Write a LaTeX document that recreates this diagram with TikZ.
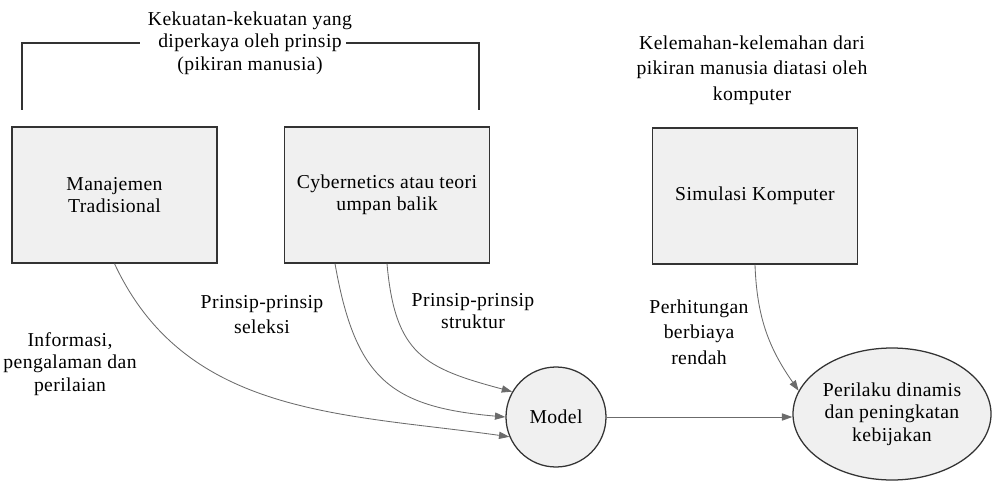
\documentclass[tikz,border=0pt]{standalone}
\usepackage{fontspec}
\setmainfont{Liberation Serif}[LetterSpace=2]
\usetikzlibrary{shapes.geometric,arrows.meta,positioning}

\begin{document}
\begin{tikzpicture}[
  font=\fontsize{14}{16}\selectfont,
  kotak/.style={draw=cgaris,fill=cisi,line width=0.9pt,minimum width=5.125cm,minimum height=3.4cm,align=center,inner sep=2pt},
  teks/.style={align=center,inner sep=0pt},
  panah/.style={draw=cpanah,line width=0.6pt,-{Triangle[length=2.6mm,width=1.8mm]}},
]
%
\useasboundingbox (0,0) rectangle (24.825cm,12cm);
%
\definecolor{cgaris}{rgb}{0.2,0.2,0.2}
\definecolor{cisi}{rgb}{0.94,0.94,0.94}
\definecolor{cpanah}{rgb}{0.42,0.42,0.42}
%
\node[kotak] (mt) at (2.8625,7.125) {Manajemen\\Tradisional};
\node[kotak] (cyb) at (9.675,7.125) {Cybernetics atau teori\\umpan balik};
\node[kotak] (sim) at (18.875,7.1) {Simulasi Komputer};
\node[draw=cgaris,fill=cisi,line width=0.9pt,circle,minimum size=2.5cm,inner sep=0pt] (model) at (13.9,1.575) {Model};
\node[draw=cgaris,fill=cisi,line width=0.9pt,ellipse,minimum width=4.95cm,minimum height=3.3cm,align=center,inner sep=0pt] (per) at (22.3,1.65) {Perilaku dinamis\\dan peningkatan\\kebijakan};
%
\node[teks] (kuat) at (6.25,10.925) {Kekuatan-kekuatan yang\\diperkaya oleh prinsip\\(pikiran manusia)};
\node[teks,font=\fontsize{14}{18}\selectfont] (lemah) at (18.8,10.25) {Kelemahan-kelemahan dari\\pikiran manusia diatasi oleh\\komputer};
\node[teks] (info) at (1.75,2.9) {Informasi,\\pengalaman dan\\perilaian};
\node[teks,font=\fontsize{14}{18}\selectfont] (sel) at (6.55,4.14) {Prinsip-prinsip\\seleksi};
\node[teks] (str) at (11.825,4.225) {Prinsip-prinsip\\struktur};
\node[teks,font=\fontsize{14}{18}\selectfont] (hit) at (17.475,3.7) {Perhitungan\\berbiaya\\rendah};
%
\coordinate (bkiri) at (0.55,9.25);
\coordinate (bkanan) at (11.975,9.25);
\draw[cgaris,line width=0.9pt] (bkiri) |- ([xshift=-2.75cm]kuat.center);
\draw[cgaris,line width=0.9pt] (bkanan) |- ([xshift=2.4cm]kuat.center);
%
\draw[panah] (mt.south) to[out=-65,in=172] (model.203);
\draw[panah] ([xshift=-1.3cm]cyb.south) to[out=-80,in=175,looseness=1.3] (model.west);
\draw[panah] (cyb.south) to[out=-85,in=165,looseness=1.3] (model.150);
\draw[panah] (model.east) -- (model.east -| per.west);
\draw[panah] (sim.south) to[out=-88,in=125] (per.166);
%
\end{tikzpicture}
\end{document}
